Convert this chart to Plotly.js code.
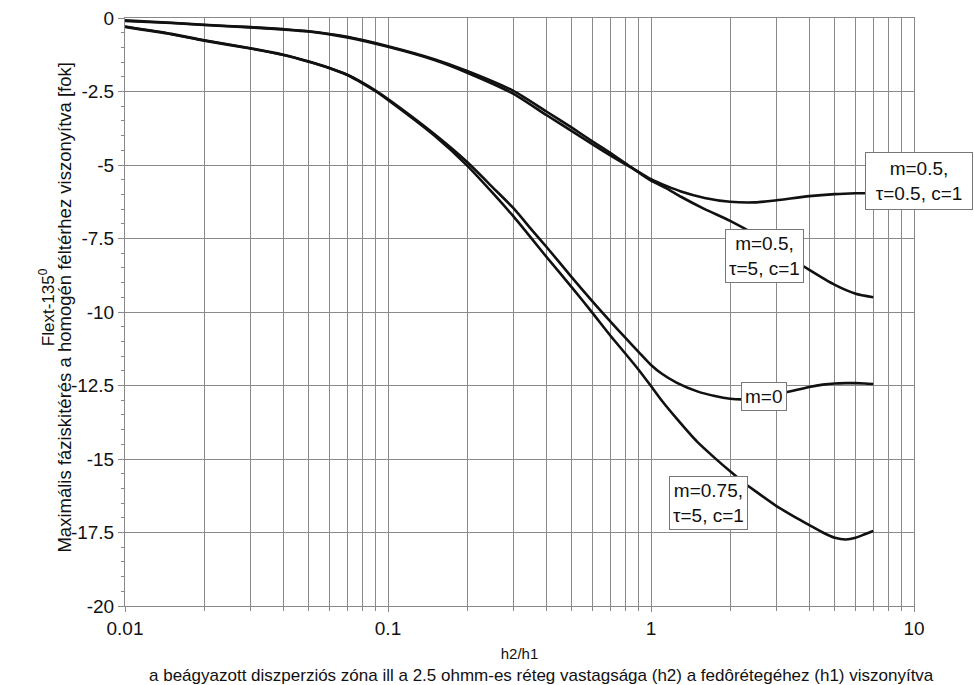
<!DOCTYPE html>
<html>
<head>
<meta charset="utf-8">
<script src="https://cdn.plot.ly/plotly-3.0.1.min.js"></script>
<style>body{margin:0;background:#fff;}#chart{width:974px;height:685px;}</style>
</head>
<body>
<div id="chart"></div>
<script>
// Upper group: m=0.5 curves
const xUpper = [0.01,0.015,0.02,0.03,0.04,0.05,0.07,0.1,0.15,0.2,0.3,0.4,0.5,0.6,0.7,0.8,0.9,1.0,1.15,1.3,1.6,2,2.5,3,4,5,6,7];
const yTau05 = [-0.10,-0.17,-0.24,-0.32,-0.39,-0.46,-0.66,-0.98,-1.43,-1.86,-2.58,-3.30,-3.85,-4.30,-4.67,-4.98,-5.24,-5.48,-5.72,-5.90,-6.12,-6.25,-6.27,-6.20,-6.06,-5.99,-5.96,-5.95];
const yTau5  = [-0.08,-0.16,-0.23,-0.31,-0.38,-0.45,-0.64,-0.96,-1.40,-1.80,-2.48,-3.18,-3.73,-4.20,-4.59,-4.94,-5.26,-5.53,-5.80,-6.08,-6.50,-6.90,-7.38,-7.85,-8.57,-9.08,-9.38,-9.50];

// Lower group: m=0 and m=0.75
const xLower = [0.01,0.015,0.02,0.03,0.04,0.05,0.06,0.07,0.08,0.09,0.1,0.15,0.2,0.25,0.3,0.35,0.4,0.5,0.6,0.7,0.8,0.9,1.0,1.1,1.25,1.5,1.75,2,2.25,2.5,3,3.5,4,4.5,5,5.5,6,6.5,7];
const yM0   = [-0.29,-0.54,-0.76,-1.03,-1.25,-1.48,-1.70,-1.93,-2.20,-2.48,-2.76,-3.95,-4.90,-5.76,-6.47,-7.18,-7.78,-8.82,-9.65,-10.32,-10.88,-11.37,-11.80,-12.10,-12.40,-12.70,-12.86,-12.95,-12.97,-12.93,-12.80,-12.67,-12.55,-12.47,-12.43,-12.42,-12.42,-12.43,-12.45];
const yM075 = [-0.30,-0.55,-0.77,-1.04,-1.26,-1.49,-1.71,-1.94,-2.22,-2.50,-2.79,-4.00,-5.02,-5.95,-6.75,-7.48,-8.12,-9.16,-10.04,-10.80,-11.42,-11.98,-12.52,-13.02,-13.62,-14.42,-14.97,-15.42,-15.80,-16.10,-16.60,-16.96,-17.25,-17.50,-17.68,-17.74,-17.68,-17.56,-17.45];

const yTickVals = [0,-2.5,-5,-7.5,-10,-12.5,-15,-17.5,-20];
const yTickText = ['0','-2.5','-5','-7.5','-10','-12.5','-15','-17.5','-20'];

const labelTexts = ['m=0.5,<br>τ=0.5, c=1','m=0.5,<br>τ=5, c=1','m=0','m=0.75,<br>τ=5, c=1'];
const labelX = [10.45, 2.69, 2.69, 1.66];
const labelY = [-5.54, -8.10, -12.86, -16.5];
const labelBoxW = [100, null, null, null];

const font = 'Liberation Sans, Arial, sans-serif';
const lineStyle = {color:'#111', width:2.6, shape:'spline', smoothing:0.6};

const traces = [
  {x:xUpper, y:yTau05, mode:'lines', line:lineStyle, name:'m=0.5, τ=0.5, c=1'},
  {x:xUpper, y:yTau5,  mode:'lines', line:lineStyle, name:'m=0.5, τ=5, c=1'},
  {x:xLower, y:yM0,    mode:'lines', line:lineStyle, name:'m=0'},
  {x:xLower, y:yM075,  mode:'lines', line:lineStyle, name:'m=0.75, τ=5, c=1'}
];

const xMinLog = -2, xMaxLog = 1;
const annotations = labelTexts.map((t,i)=>{
  const lx = Math.log10(labelX[i]);
  const inside = lx <= xMaxLog;
  const a = {
    x: inside ? lx : (lx - xMinLog)/(xMaxLog - xMinLog),
    xref: inside ? 'x' : 'paper',
    xanchor:'center', yanchor:'middle',
    y: labelY[i], yref:'y', text:t, showarrow:false,
    bgcolor:'#fff', bordercolor:'#777', borderwidth:1, borderpad:3,
    font:{family:font, size:19, color:'#111'}, align:'center'
  };
  if (labelBoxW[i]) { a.width = labelBoxW[i]; a.height = 50; }
  return a;
});
annotations.push({xref:'paper', yref:'paper', x:-0.099, y:0.508, text:'Flext-135<sup>0</sup>', textangle:-90, showarrow:false, xanchor:'center', yanchor:'middle', font:{family:font, size:17, color:'#111'}});
annotations.push({xref:'paper', yref:'paper', x:-0.077, y:0.508, text:'Maximális fáziskitérés a homogén féltérhez viszonyítva [fok]', textangle:-90, showarrow:false, xanchor:'center', yanchor:'middle', font:{family:font, size:18.5, color:'#111'}});
annotations.push({xref:'paper', yref:'paper', x:0.5285, y:-0.119, text:'a beágyazott diszperziós zóna ill a 2.5 ohmm-es réteg vastagsága (h2) a fedôrétegéhez (h1) viszonyítva', showarrow:false, xanchor:'center', yanchor:'middle', font:{family:font, size:17, color:'#111'}});

const layout = {
  width:974, height:685,
  margin:{l:125, r:60, t:18, b:79},
  paper_bgcolor:'#fff', plot_bgcolor:'#fff',
  showlegend:false,
  xaxis:{
    type:'log', range:[xMinLog, xMaxLog], dtick:1,
    showgrid:true, gridcolor:'#8a8a8a', gridwidth:1,
    minor:{dtick:'D1', showgrid:true, gridcolor:'#8a8a8a', gridwidth:1, ticks:'outside', ticklen:4, tickcolor:'#888'},
    ticks:'outside', ticklen:5, tickcolor:'#888',
    showline:true, linecolor:'#888', linewidth:1, mirror:true,
    zeroline:false,
    tickfont:{family:font, size:19, color:'#111'},
    title:{text:'h2/h1', font:{family:font, size:15, color:'#111'}, standoff:10}
  },
  yaxis:{
    range:[-20,0], tickvals:yTickVals, ticktext:yTickText,
    showgrid:true, gridcolor:'#8a8a8a', gridwidth:1,
    minor:{dtick:0.5, ticks:'outside', ticklen:3, tickcolor:'#888', showgrid:false},
    ticks:'outside', ticklen:6, tickcolor:'#888',
    showline:true, linecolor:'#888', linewidth:1, mirror:true,
    zeroline:false,
    tickfont:{family:font, size:19, color:'#111'}
  },
  annotations:annotations
};

Plotly.newPlot('chart', traces, layout, {displayModeBar:false, staticPlot:true});
</script>
</body>
</html>
